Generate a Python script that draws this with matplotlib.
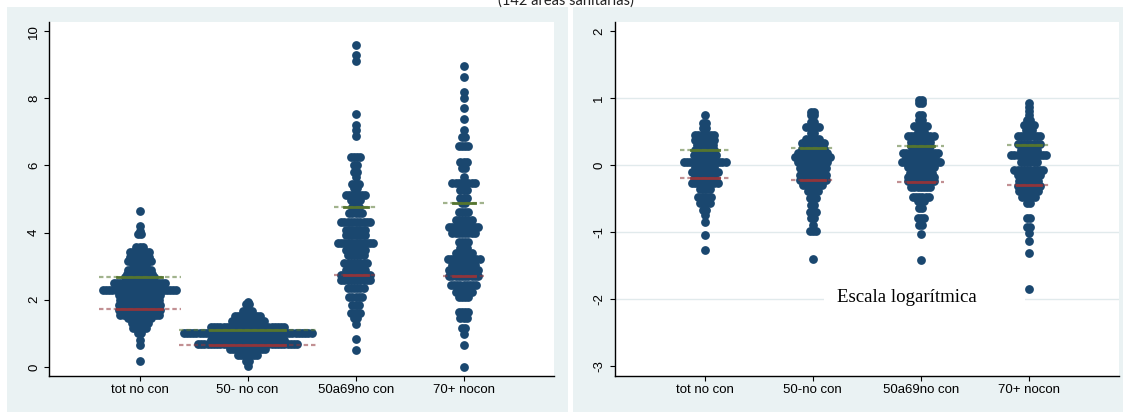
import matplotlib
matplotlib.use("Agg")
import matplotlib.pyplot as plt
from matplotlib.patches import Rectangle
from matplotlib.transforms import blended_transform_factory

plt.rcParams["font.family"] = ["Liberation Sans", "DejaVu Sans"]
plt.rcParams["axes.unicode_minus"] = False

# etiquetas de los grupos
grupos_izq = ["tot no con", "50- no con", "50a69no con", "70+ nocon"]
grupos_der = ["tot no con", "50-no con", "50a69no con", "70+ nocon"]

# panel izquierdo: valores de cada fila del dotplot y nº de puntos en la fila
tot_vals = [4.65, 4.2, 4.06, 3.96, 3.58, 3.43, 3.28, 3.16, 3.03, 2.89, 2.77, 2.68, 2.49,
            2.29, 2.14, 1.99, 1.85, 1.70, 1.55, 1.46, 1.30, 1.15, 1.0, 0.8, 0.65, 0.17]
tot_n = [1, 1, 1, 2, 3, 7, 7, 8, 5, 8, 9, 10, 17, 24, 14, 13, 14, 14, 13, 8, 6, 5, 2, 1, 1, 1]

m50_vals = [1.94, 1.88, 1.68, 1.52, 1.38, 1.20, 1.0, 0.80, 0.68, 0.53, 0.36, 0.19, 0.03]
m50_n = [1, 2, 4, 9, 11, 24, 41, 24, 32, 12, 7, 2, 1]

e5069_vals = [9.60, 9.29, 9.12, 7.52, 7.20, 7.05, 6.87, 6.24, 6.01, 5.81, 5.66, 5.45, 5.32,
              5.12, 4.97, 4.77, 4.57, 4.32, 4.08, 3.93, 3.70, 3.48, 3.33, 3.09, 2.89, 2.74,
              2.59, 2.34, 2.09, 1.85, 1.62, 1.45, 1.28, 0.82, 0.51]
e5069_n = [1, 1, 1, 1, 1, 1, 1, 4, 2, 2, 1, 3, 2, 7, 4, 3, 5, 10, 7, 7, 12, 7, 6, 8, 7, 10,
           10, 6, 5, 3, 4, 2, 1, 1, 1]

m70_vals = [8.97, 8.64, 8.18, 8.02, 7.70, 7.38, 7.05, 6.85, 6.59, 6.11, 5.93, 5.66, 5.47,
            5.27, 5.02, 4.87, 4.62, 4.38, 4.18, 3.98, 3.73, 3.55, 3.38, 3.21, 3.04, 2.89,
            2.72, 2.44, 2.24, 2.09, 1.65, 1.45, 1.15, 0.97, 0.65, 0.01]
m70_n = [1, 1, 1, 1, 1, 1, 1, 2, 4, 3, 2, 1, 8, 3, 3, 2, 4, 6, 10, 8, 4, 3, 6, 11, 8, 10,
         10, 9, 6, 4, 4, 3, 2, 1, 1, 1]

# panel derecho (escala logarítmica)
ltot_vals = [0.75, 0.63, 0.55, 0.45, 0.38, 0.30, 0.23, 0.15, 0.05, -0.02, -0.10, -0.18,
             -0.27, -0.36, -0.47, -0.57, -0.67, -0.74, -0.85, -1.04, -1.26]
ltot_n = [1, 2, 2, 7, 7, 6, 7, 8, 14, 7, 9, 7, 9, 4, 5, 4, 2, 1, 1, 1, 1]

lm50_vals = [0.80, 0.75, 0.65, 0.57, 0.48, 0.40, 0.33, 0.25, 0.18, 0.13, 0.05, -0.04, -0.14,
             -0.22, -0.29, -0.39, -0.49, -0.59, -0.69, -0.79, -0.89, -0.98, -1.40]
lm50_n = [2, 2, 2, 5, 2, 5, 8, 8, 10, 12, 10, 9, 9, 9, 7, 4, 3, 2, 3, 2, 1, 3, 1]

le5069_vals = [0.98, 0.93, 0.75, 0.68, 0.58, 0.50, 0.43, 0.35, 0.29, 0.19, 0.13, 0.05, -0.03,
               -0.12, -0.18, -0.24, -0.33, -0.47, -0.54, -0.63, -0.79, -0.89, -1.03, -1.41]
le5069_n = [2, 2, 2, 2, 5, 3, 9, 7, 7, 12, 10, 13, 9, 8, 9, 9, 7, 6, 3, 2, 3, 2, 1, 1]

lm70_vals = [0.93, 0.87, 0.81, 0.75, 0.67, 0.60, 0.53, 0.43, 0.32, 0.23, 0.15, 0.05, -0.07,
             -0.14, -0.23, -0.31, -0.39, -0.48, -0.57, -0.79, -0.92, -1.01, -1.13, -1.31, -1.84]
lm70_n = [1, 1, 1, 1, 2, 4, 3, 8, 8, 6, 12, 6, 10, 8, 7, 8, 7, 5, 2, 2, 2, 1, 1, 1, 1]

# lineas de referencia (verde arriba, granate abajo)
izq_verde = [2.68, 1.09, 4.77, 4.88]
izq_rojo = [1.73, 0.66, 2.74, 2.71]
der_verde = [0.23, 0.26, 0.29, 0.31]
der_rojo = [-0.185, -0.22, -0.245, -0.29]

navy = "#1A476F"
verde = "#55752F"
granate = "#90353B"
fondo = "#EAF2F3"

W, H = 1123, 412
fig = plt.figure(figsize=(W / 100, H / 100), dpi=100)
fig.patch.set_facecolor("white")
fig.patches.append(Rectangle((7 / W, 0), 561 / W, 405.5 / H, transform=fig.transFigure,
                             facecolor=fondo, edgecolor="none", zorder=-10))
fig.patches.append(Rectangle((573 / W, 0), 550 / W, 405.5 / H, transform=fig.transFigure,
                             facecolor=fondo, edgecolor="none", zorder=-10))

ax1 = fig.add_axes([49.3 / W, 36 / H, 504.7 / W, 354 / H])
ax2 = fig.add_axes([614.5 / W, 36 / H, 504.7 / W, 354 / H])

px = 4.672 / 504.7        # unidades de x por pixel
paso = 3.2 * px
radio = 4.2 * px


def puntos(ax, x0, vals, cuentas):
    xs, ys = [], []
    for v, n in zip(vals, cuentas):
        for j in range(n):
            xs.append(x0 + (j - (n - 1) / 2) * paso)
            ys.append(v)
    ax.scatter(xs, ys, s=40, color=navy, linewidths=0, zorder=3)


def linea(ax, x0, y, cuentas, color):
    m = (max(cuentas) - 1) / 2 * paso + radio
    ax.plot([x0 - m, x0 + m], [y, y], color=color, lw=1.6, ls=(0, (2, 1.3)), alpha=0.55, zorder=4)
    ax.plot([x0 - 0.55 * m, x0 + 0.55 * m], [y, y], color=color, lw=2.0, zorder=5)


def estilo(ax, etiquetas, yticks, ylim):
    ax.set_facecolor("white")
    ax.set_xlim(1 - 0.836, 4 + 0.836)
    ax.set_ylim(*ylim)
    ax.set_xticks(range(1, 5), etiquetas)
    ax.set_yticks(yticks)
    ax.tick_params(axis="y", labelrotation=90, length=3.6, width=0.8, pad=3, labelsize=9.5)
    ax.tick_params(axis="x", length=3.6, width=0.8, pad=2.5, labelsize=9.5)
    for lab in ax.get_yticklabels():
        lab.set_va("center")
    for s in ["top", "right"]:
        ax.spines[s].set_visible(False)
    for s in ["left", "bottom"]:
        ax.spines[s].set_linewidth(1.0)
        ax.spines[s].set_color("black")


izq = [(tot_vals, tot_n), (m50_vals, m50_n), (e5069_vals, e5069_n), (m70_vals, m70_n)]
der = [(ltot_vals, ltot_n), (lm50_vals, lm50_n), (le5069_vals, le5069_n), (lm70_vals, lm70_n)]

for i, (v, n) in enumerate(izq):
    puntos(ax1, i + 1, v, n)
    linea(ax1, i + 1, izq_verde[i], n, verde)
    linea(ax1, i + 1, izq_rojo[i], n, granate)

for i, (v, n) in enumerate(der):
    puntos(ax2, i + 1, v, n)
    linea(ax2, i + 1, der_verde[i], n, verde)
    linea(ax2, i + 1, der_rojo[i], n, granate)

estilo(ax1, grupos_izq, [0, 2, 4, 6, 8, 10], (-0.268, 10.27))
estilo(ax2, grupos_der, [2, 1, 0, -1, -2, -3], (-3.145, 2.139))

for g in [1, 0, -1, -2]:
    ax2.axhline(g, color="#E1EAEC", lw=1.0, zorder=1)

tr = blended_transform_factory(ax2.transAxes, ax2.transData)
ax2.add_patch(Rectangle((0.4147, -2.13), 0.3985, 0.26, transform=tr,
                        facecolor="white", edgecolor="none", zorder=2))
ax2.text(0.5788, -1.97, "Escala logarítmica", transform=tr, ha="center", va="center",
         fontsize=13.6, family=["Liberation Serif", "DejaVu Serif"], zorder=6)

fig.text(566 / W, 1 - 4.5 / H, "(142 áreas sanitarias)", ha="center", va="baseline",
         fontsize=10.5, family=["Lato", "DejaVu Sans"], color="#222222")

fig.savefig("out.png", dpi=100)
